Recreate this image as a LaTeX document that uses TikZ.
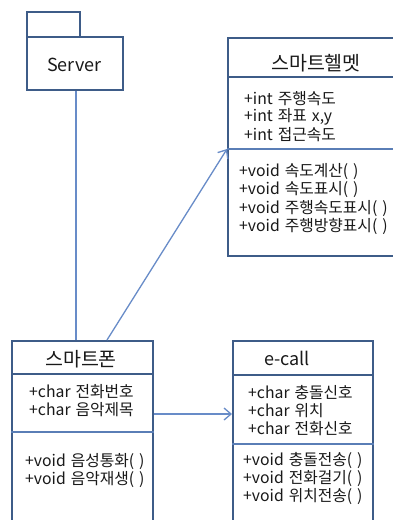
\documentclass[tikz,border=0pt]{standalone}
\usepackage{fontspec}
\setmainfont{Noto Sans CJK KR}[WordSpace=1.4]
\usetikzlibrary{arrows.meta,calc}
\definecolor{bordercol}{RGB}{62,92,136}
\definecolor{divcol}{RGB}{90,126,182}
\definecolor{conncol}{RGB}{104,140,200}
\definecolor{txtcol}{RGB}{25,25,25}
\tikzset{
  classbox/.style={draw=bordercol, line width=2.2pt, fill=white, anchor=north west, inner sep=0pt},
  hdiv/.style={draw=bordercol, line width=1.8pt},
  adiv/.style={draw=divcol, line width=1.5pt},
  titletext/.style={font=\fontsize{18}{20}\selectfont, text=txtcol, inner sep=0pt},
  kotitle/.style={font=\fontsize{19.5}{20}\selectfont, text=txtcol, inner sep=0pt},
  member/.style={font=\fontsize{15.8}{18}\selectfont, text=txtcol, anchor=west, inner sep=0pt},
  connline/.style={draw=conncol, line width=1.3pt},
  arrline/.style={connline, -{Straight Barb[length=7pt,width=12pt]}},
}
\begin{document}
\begin{tikzpicture}[x=1pt,y=-1pt]
\useasboundingbox (0,0) rectangle (393,520);
\fill[white] (0,0) rectangle (393,520);
\clip (0,0) rectangle (393,520);

% Server package
\node[classbox, minimum width=53pt, minimum height=25pt] (tab) at (26,11) {};
\node[classbox, minimum width=96pt, minimum height=53pt] (server) at (26,36) {};
\node[titletext] (servertxt) at (74.5,64.5) {Server};

% boxes
\node[classbox, minimum width=180pt, minimum height=218pt] (helmet) at (227,37) {};
\node[classbox, minimum width=141pt, minimum height=200pt] (phone) at (11,340) {};
\node[classbox, minimum width=140pt, minimum height=200pt] (ecall) at (232,340) {};

% dividers
\draw[hdiv] ($(helmet.north west)+(0,40)$) -- ($(helmet.north east)+(0,40)$);
\draw[adiv] ($(helmet.north west)+(0,112)$) -- ($(helmet.north east)+(0,112)$);
\draw[hdiv] ($(phone.north west)+(0,34)$) -- ($(phone.north east)+(0,34)$);
\draw[adiv] ($(phone.north west)+(0,92)$) -- ($(phone.north east)+(0,92)$);
\draw[hdiv] ($(ecall.north west)+(0,35)$) -- ($(ecall.north east)+(0,35)$);
\draw[adiv] ($(ecall.north west)+(0,104)$) -- ($(ecall.north east)+(0,104)$);

% titles
\node[kotitle] (helmettitle) at (316,63.5) {스마트헬멧};
\node[kotitle] (phonetitle) at (81,359) {스마트폰};
\node[titletext] (ecalltitle) at (287,358) {e-call};

% helmet members
\node[member] (h1) at (244,98.5) {+int 주행속도};
\node[member] (h2) at (244,116.8) {+int 좌표 x,y};
\node[member] (h3) at (244,135) {+int 접근속도};
\node[member] (h4) at (239,171.7) {+void 속도계산( )};
\node[member] (h5) at (239,190) {+void 속도표시( )};
\node[member] (h6) at (239,208.3) {+void 주행속도표시( )};
\node[member] (h7) at (239,226.7) {+void 주행방향표시( )};

% phone members
\node[member] (p1) at (29,391.7) {+char 전화번호};
\node[member] (p2) at (29,410) {+char 음악제목};
\node[member] (p3) at (25,461.7) {+void 음성통화( )};
\node[member] (p4) at (25,479.5) {+void 음악재생( )};

% ecall members
\node[member] (e1) at (248,392.3) {+char 충돌신호};
\node[member] (e2) at (248,410.3) {+char 위치};
\node[member] (e3) at (248,428.5) {+char 전화신호};
\node[member] (e4) at (243,460.7) {+void 충돌전송( )};
\node[member] (e5) at (243,478.7) {+void 전화걸기( )};
\node[member] (e6) at (243,496.7) {+void 위치전송( )};

% connectors
\coordinate (sB) at ($(server.south)+(1,0)$);
\draw[connline] (sB) -- (sB |- phone.north);
\coordinate (pA) at ($(phone.north west)+(96,0)$);
\coordinate (hA) at ($(helmet.north west)+(0,112)$);
\draw[arrline] (pA) -- (hA);
\coordinate (pB) at ($(phone.north east)+(0,74)$);
\draw[arrline] (pB) -- (pB -| ecall.west);
\end{tikzpicture}
\end{document}
